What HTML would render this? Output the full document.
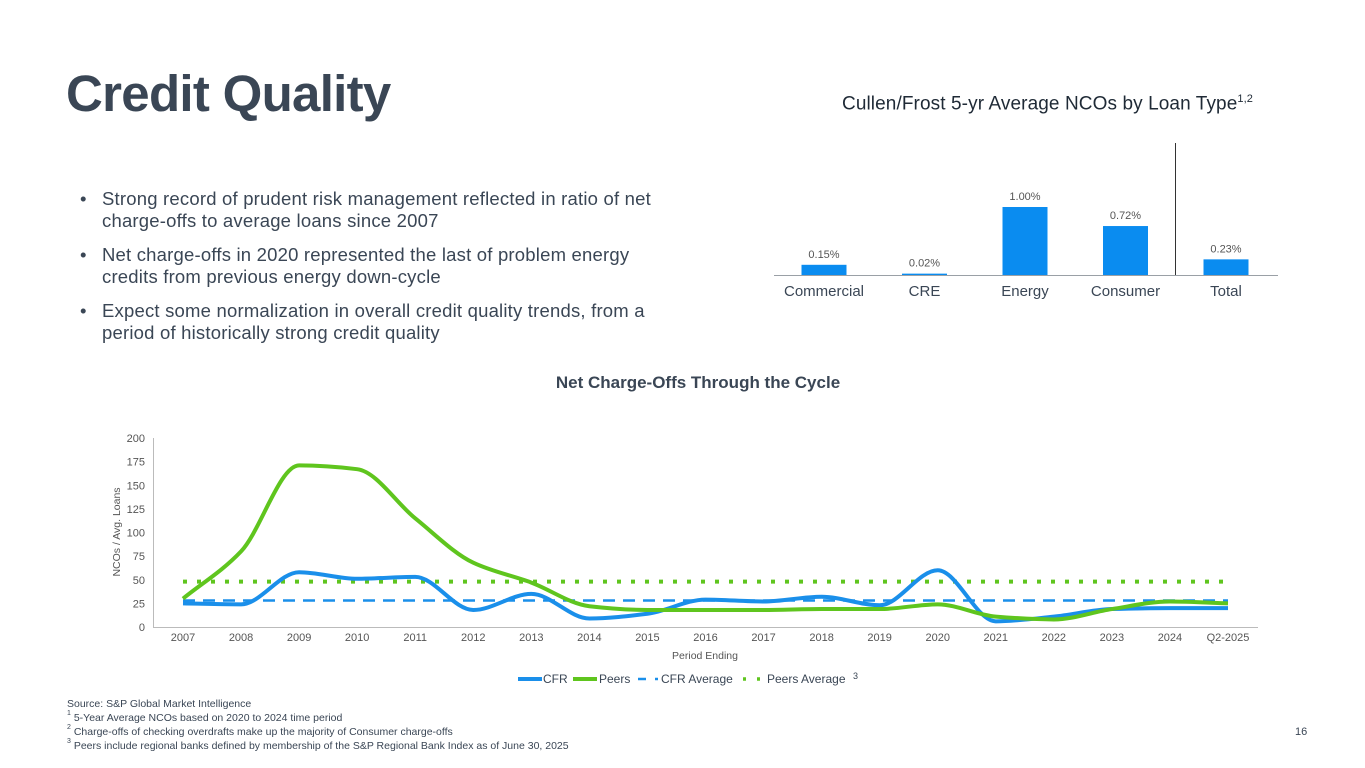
<!DOCTYPE html>
<html><head><meta charset="utf-8"><style>
body{margin:0;width:1365px;height:768px;background:#fff;overflow:hidden;font-family:"Liberation Sans",sans-serif;position:relative}
.abs{position:absolute}
h1{position:absolute;left:66px;top:64px;margin:0;font-size:51px;font-weight:bold;color:#3a4655;letter-spacing:-0.7px}
ul{position:absolute;left:80px;top:188px;margin:0;padding:0;list-style:none;width:600px;color:#3a4655;font-size:18.5px;letter-spacing:0.2px;line-height:22px}
ul li{position:relative;padding-left:22px;margin-bottom:12px}
ul li:before{content:"•";position:absolute;left:0}
.foot{left:67px;top:697px;font-size:10.5px;color:#3a4655;line-height:14px}
.foot span{font-size:7px;vertical-align:top;line-height:0;position:relative;top:3px}
</style></head><body>
<h1>Credit Quality</h1>
<ul>
<li>Strong record of prudent risk management reflected in ratio of net charge&#8209;offs to average loans since 2007</li>
<li>Net charge&#8209;offs in 2020 represented the last of problem energy credits from previous energy down&#8209;cycle</li>
<li>Expect some normalization in overall credit quality trends, from a period of historically strong credit quality</li>
</ul>
<div class="abs" style="left:842px;top:93px;font-size:19px;color:#1f2a36;letter-spacing:0.1px">Cullen/Frost 5-yr Average NCOs by Loan Type<sup style="font-size:11px">1,2</sup></div>
<svg class="abs" style="left:0;top:0" width="1365" height="768" id="svg"></svg>
<div class="abs foot">Source: S&amp;P Global Market Intelligence<br><span>1</span> 5-Year Average NCOs based on 2020 to 2024 time period<br><span>2</span> Charge-offs of checking overdrafts make up the majority of Consumer charge-offs<br><span>3</span> Peers include regional banks defined by membership of the S&amp;P Regional Bank Index as of June 30, 2025</div>
<div class="abs" style="left:1295px;top:726px;font-size:11px;color:#3a4655">16</div>
<script>
const barCats=["Commercial","CRE","Energy","Consumer","Total"];
const barVals=[0.15,0.02,1.00,0.72,0.23];
const barLabels=["0.15%","0.02%","1.00%","0.72%","0.23%"];
const years=["2007","2008","2009","2010","2011","2012","2013","2014","2015","2016","2017","2018","2019","2020","2021","2022","2023","2024","Q2-2025"];
const cfr=[25,24,58,51,53,18,35,9,14,29,27,32,23,60,6,11,19,20,20];
const peers=[30,80,171,167,115,68,47,22,18,18,18,19,19,24,11,8,19,27,25];
const cfrAvg=28;
const peersAvg=48;
const yTicks=[0,25,50,75,100,125,150,175,200];
const NS="http://www.w3.org/2000/svg";
const svg=document.getElementById('svg');
function mk(t,a,txt){const e=document.createElementNS(NS,t);for(const k in a)e.setAttribute(k,a[k]);if(txt!==undefined)e.textContent=txt;svg.appendChild(e);return e;}
const bx=i=>824+i*100.5, by=v=>275-v*68;
let e=mk('line',{x1:774,x2:1278,y1:275.5,y2:275.5,stroke:'#9aa0a6','stroke-width':1});

e=mk('line',{x1:1175.5,x2:1175.5,y1:143,y2:275,stroke:'#333','stroke-width':1});

barVals.forEach((v,i)=>{
 let r=mk('rect',{x:bx(i)-22.5,y:by(v),width:45,height:275-by(v),fill:'#0a8cf0'});
 
 let t=mk('text',{x:bx(i),y:by(v)-7,'text-anchor':'middle','font-size':11,fill:'#555'},barLabels[i]);
 
 t=mk('text',{x:bx(i),y:296,'text-anchor':'middle','font-size':15,fill:'#3a4655'},barCats[i]);
 
});
e=mk('text',{x:698,y:388,'text-anchor':'middle','font-size':17,'font-weight':'bold',fill:'#3a4655'},'Net Charge-Offs Through the Cycle');

const X=i=>183+i*(1228-183)/(years.length-1), Y=v=>627-v*(627-438)/200;
e=mk('line',{x1:153,x2:1258,y1:627.5,y2:627.5,stroke:'#bbb'});
e=mk('line',{x1:153.5,x2:153.5,y1:438,y2:627,stroke:'#bbb'});
yTicks.forEach(v=>{let t=mk('text',{x:145,y:Y(v)+4,'text-anchor':'end','font-size':11,fill:'#555'},String(v));});
years.forEach((y,i)=>{let t=mk('text',{x:X(i),y:641,'text-anchor':'middle','font-size':11,fill:'#555'},y);});
e=mk('text',{x:705,y:659,'text-anchor':'middle','font-size':10.5,fill:'#555'},'Period Ending');
e=mk('text',{x:0,y:0,'text-anchor':'middle','font-size':10.5,fill:'#555',transform:'translate(120,532) rotate(-90)'},'NCOs / Avg. Loans');
e=mk('line',{x1:X(0),x2:X(18),y1:Y(peersAvg),y2:Y(peersAvg),stroke:'#5fc51e','stroke-width':4,'stroke-dasharray':'4 10'});
e=mk('line',{x1:X(0),x2:X(18),y1:Y(cfrAvg),y2:Y(cfrAvg),stroke:'#1a8fea','stroke-width':2.5,'stroke-dasharray':'12 8'});
function smooth(vals){const n=vals.length,p=vals.map((v,i)=>[X(i),Y(v)]);const h=p[1][0]-p[0][0];
 const dl=[];for(let i=0;i<n-1;i++)dl.push((p[i+1][1]-p[i][1])/h);
 const m=[];for(let i=0;i<n;i++){if(i==0)m.push(dl[0]);else if(i==n-1)m.push(dl[n-2]);else if(dl[i-1]*dl[i]<=0)m.push(0);else m.push(2/(1/dl[i-1]+1/dl[i]));}
 let d='M'+p[0][0]+','+p[0][1];
 for(let i=0;i<n-1;i++){d+=' C'+(p[i][0]+h/3)+','+(p[i][1]+m[i]*h/3)+' '+(p[i+1][0]-h/3)+','+(p[i+1][1]-m[i+1]*h/3)+' '+p[i+1][0]+','+p[i+1][1];}return d;}
e=mk('path',{d:smooth(cfr),fill:'none',stroke:'#1a8fea','stroke-width':4});
e=mk('path',{d:smooth(peers),fill:'none',stroke:'#5fc51e','stroke-width':4});
const lg=[[518,542,543,'CFR','#1a8fea',null,4],[573,597,599,'Peers','#5fc51e',null,4],[638,660,661,'CFR Average','#1a8fea','8 9 3 9',2.5],[743,762,767,'Peers Average','#5fc51e','3 11',3.5]];
lg.forEach(([x1,x2,tx,l,c,da,w])=>{let a={x1:x1,x2:x2,y1:679,y2:679,stroke:c,'stroke-width':w};if(da)a['stroke-dasharray']=da;
 let s=mk('line',a);
 let t=mk('text',{x:tx,y:683,'font-size':12,fill:'#3a4655'},l);});
e=mk('text',{x:853,y:679,'font-size':9,fill:'#3a4655'},'3');
</script>
</body></html>
